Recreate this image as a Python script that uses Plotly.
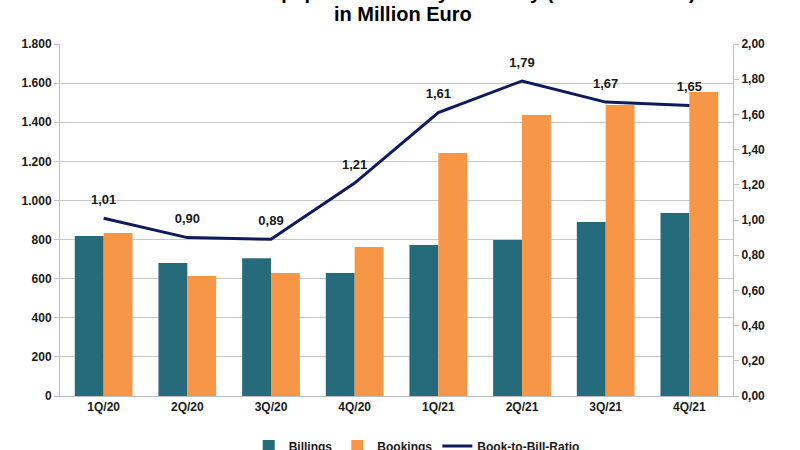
import plotly.graph_objects as go

quarters = ["1Q/20", "2Q/20", "3Q/20", "4Q/20", "1Q/21", "2Q/21", "3Q/21", "4Q/21"]
billings = [818, 680, 705, 629, 772, 798, 890, 936]
bookings = [833, 613, 629, 762, 1242, 1437, 1488, 1554]
ratio = [1.01, 0.90, 0.89, 1.21, 1.61, 1.79, 1.67, 1.65]
ratio_text = [f"{v:.2f}".replace(".", ",") for v in ratio]

FONT = "Arial, Liberation Sans, sans-serif"
TXT = dict(family=FONT, size=12, color="#1A1A1A", weight="bold")

fig = go.Figure()
fig.add_trace(go.Bar(x=quarters, y=billings, name="Billings", marker_color="#266B7B"))
fig.add_trace(go.Bar(x=quarters, y=bookings, name="Bookings", marker_color="#F79646"))
fig.add_trace(go.Scatter(x=quarters, y=ratio, name="Book-to-Bill-Ratio", yaxis="y2",
                         mode="lines+markers+text", line=dict(color="#0E1A5C", width=3),
                         marker=dict(size=16, color="rgba(0,0,0,0)"),
                         text=ratio_text, textposition="top center",
                         textfont=dict(family=FONT, size=13, color="#1A1A1A", weight="bold"),
                         cliponaxis=False))

fig.update_layout(
    width=800, height=450,
    margin=dict(l=60, r=67, t=44, b=54, autoexpand=False),
    paper_bgcolor="white", plot_bgcolor="white",
    separators=",.",
    barmode="group", bargap=0.31, bargroupgap=0,
    font=dict(family=FONT, size=12, color="#1A1A1A"),
    showlegend=True,
    legend=dict(orientation="h", x=0.53, xanchor="center", y=-0.142, yanchor="middle",
                font=TXT, traceorder="normal"),
    xaxis=dict(showline=True, linecolor="#BFBFBF", linewidth=1, ticks="",
               tickfont=TXT),
    yaxis=dict(range=[0, 1800], dtick=200, tickformat=",.0f", showgrid=True,
               gridcolor="#C8C8C8", showline=True, linecolor="#BFBFBF",
               ticks="outside", ticklen=5, tickcolor="#BFBFBF", zeroline=False,
               tickfont=TXT),
    yaxis2=dict(range=[0, 2], dtick=0.2, tickformat=".2f", overlaying="y", side="right",
                showgrid=False, showline=True, linecolor="#BFBFBF",
                ticks="outside", ticklen=5, tickcolor="#BFBFBF", zeroline=False,
                tickfont=TXT),
)

fig.update_traces(selector=dict(type="bar"), marker_line_width=0)

fig.add_annotation(text="<b>Semiconductor Equipment Industry Germany (Productronics)</b>",
                   xref="paper", yref="paper", x=0.51, y=1.148, yanchor="middle",
                   showarrow=False, font=dict(family=FONT, size=20, color="black"))
fig.add_annotation(text="<b>in Million Euro</b>",
                   xref="paper", yref="paper", x=0.51, y=1.085, yanchor="middle",
                   showarrow=False, font=dict(family=FONT, size=20, color="black"))

fig.write_html("out.html")
